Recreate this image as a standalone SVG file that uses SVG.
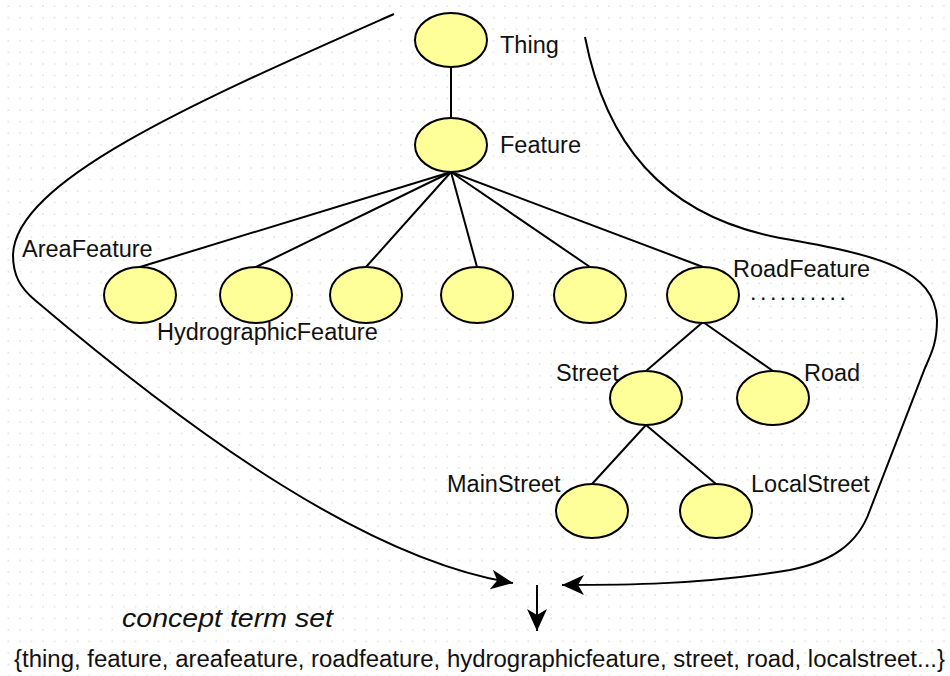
<svg xmlns="http://www.w3.org/2000/svg" width="950" height="676" viewBox="0 0 950 676">
<defs>
<pattern id="grid" x="2.5" y="0.3" width="11.55" height="11.55" patternUnits="userSpaceOnUse">
<rect x="5.2" y="5.2" width="1.4" height="1.4" fill="#d6d6d6"/>
</pattern>
<marker id="arr" markerUnits="userSpaceOnUse" markerWidth="24" markerHeight="22" viewBox="0 0 24 22" refX="22" refY="11" orient="auto">
<path d="M0,1 L22,11 L0,21 L6,11 Z" fill="#000"/>
</marker>
<style>
.n{fill:#ffff99;stroke:#000;stroke-width:2}
.t{font-family:"Liberation Sans",Arial,sans-serif;font-size:23.5px;fill:#111}
.e{stroke:#000;stroke-width:2;fill:none}
</style>
</defs>
<rect width="950" height="676" fill="#fff"/>
<rect width="950" height="676" fill="url(#grid)"/>
<g id="connectors">
<line class="e" x1="451" y1="67" x2="451" y2="118"/>
<line class="e" x1="451" y1="172" x2="140" y2="267"/>
<line class="e" x1="451" y1="172" x2="256" y2="267"/>
<line class="e" x1="451" y1="172" x2="366" y2="267"/>
<line class="e" x1="451" y1="172" x2="477" y2="267"/>
<line class="e" x1="451" y1="172" x2="590" y2="267"/>
<line class="e" x1="451" y1="172" x2="703" y2="267"/>
<line class="e" x1="703" y1="322" x2="646" y2="371"/>
<line class="e" x1="703" y1="322" x2="773" y2="371"/>
<line class="e" x1="646" y1="425" x2="592" y2="484"/>
<line class="e" x1="646" y1="425" x2="716" y2="484"/>
<path class="e" marker-end="url(#arr)" d="M394,14 C200,100 15,180 13,255 C13,275 20,288 36,301 C200,440 370,560 513,583"/>
<path class="e" marker-end="url(#arr)" d="M585,37 C605,140 660,215 780,238 C880,255 935,270 937,320 C937,342 932,352 925,368 L870,510 C858,545 830,562 790,570 C700,585 620,585 562,585"/>
<line class="e" marker-end="url(#arr)" x1="537" y1="585" x2="537" y2="631"/>
</g>
<g id="thing"><ellipse class="n" cx="451" cy="40" rx="36" ry="27"/><text class="t" x="500" y="53">Thing</text></g>
<g id="feature"><ellipse class="n" cx="451" cy="145" rx="36" ry="27"/><text class="t" x="500" y="153">Feature</text></g>
<g id="areafeature"><ellipse class="n" cx="140" cy="295" rx="36" ry="28"/><text class="t" x="22" y="257">AreaFeature</text></g>
<g id="hydrographicfeature"><ellipse class="n" cx="256" cy="295" rx="36" ry="28"/><text class="t" x="157" y="340">HydrographicFeature</text></g>
<g id="node3"><ellipse class="n" cx="366" cy="295" rx="36" ry="28"/></g>
<g id="node4"><ellipse class="n" cx="477" cy="295" rx="36" ry="28"/></g>
<g id="node5"><ellipse class="n" cx="590" cy="295" rx="36" ry="28"/></g>
<g id="roadfeature"><ellipse class="n" cx="703" cy="295" rx="36" ry="28"/><text class="t" x="751" y="300" style="font-size:16px;font-weight:bold" textLength="94" lengthAdjust="spacing">. . . . . . . . . .</text><text class="t" x="733" y="277">RoadFeature</text></g>
<g id="street"><ellipse class="n" cx="646" cy="398" rx="36" ry="27"/><text class="t" x="556" y="381">Street</text></g>
<g id="road"><ellipse class="n" cx="773" cy="398" rx="36" ry="27"/><text class="t" x="804" y="381">Road</text></g>
<g id="mainstreet"><ellipse class="n" cx="592" cy="511" rx="36" ry="27"/><text class="t" x="447" y="492">MainStreet</text></g>
<g id="localstreet"><ellipse class="n" cx="716" cy="511" rx="36" ry="27"/><text class="t" x="751" y="492">LocalStreet</text></g>
<g id="labels">
<text class="t" x="122" y="627" font-style="italic" style="font-size:25px" textLength="211" lengthAdjust="spacingAndGlyphs">concept term set</text>
<text class="t" x="14" y="667" textLength="931" lengthAdjust="spacingAndGlyphs">{thing, feature, areafeature, roadfeature, hydrographicfeature, street, road, localstreet...}</text>
</g>
</svg>
